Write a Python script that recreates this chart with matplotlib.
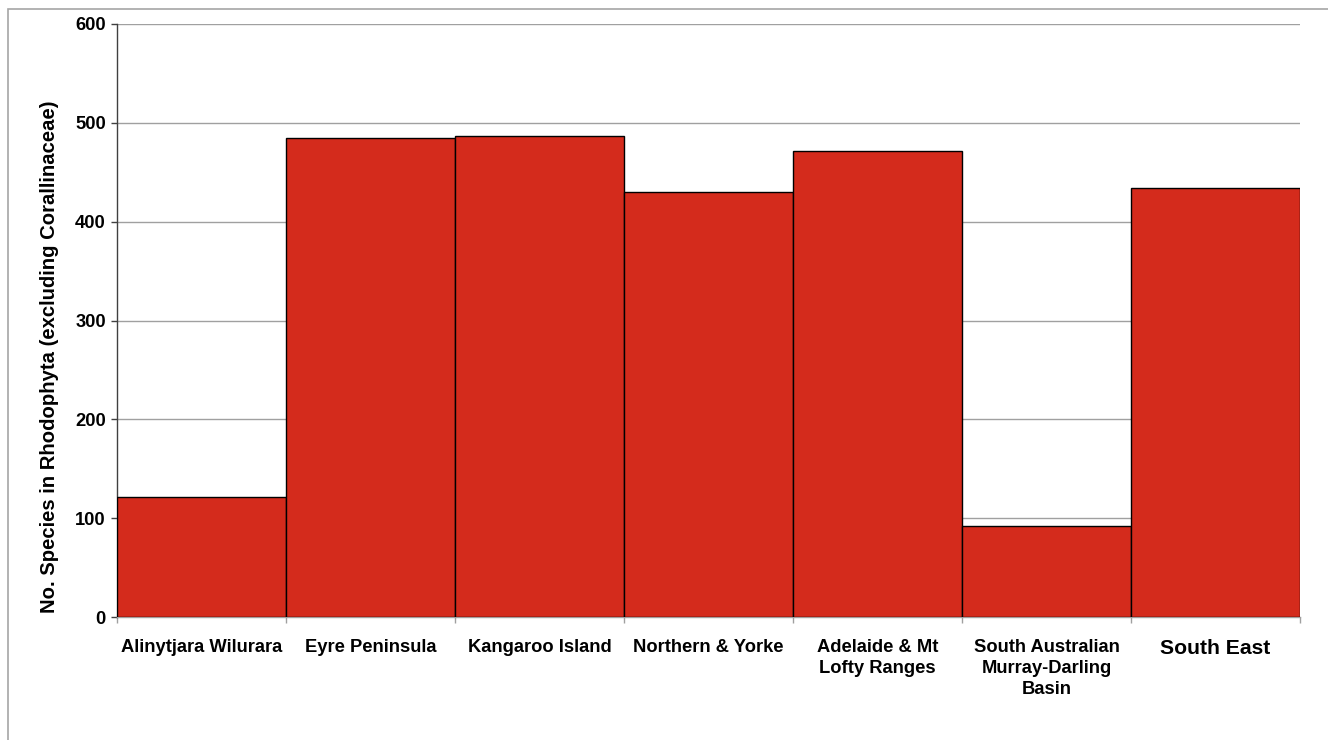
import matplotlib
matplotlib.use("Agg")
import matplotlib.pyplot as plt
from matplotlib.patches import Rectangle

regions = [
    "Alinytjara Wilurara",
    "Eyre Peninsula",
    "Kangaroo Island",
    "Northern & Yorke",
    "Adelaide & Mt\nLofty Ranges",
    "South Australian\nMurray-Darling\nBasin",
    "South East",
]
species = [121, 485, 487, 430, 472, 92, 434]
y_ticks = [0, 100, 200, 300, 400, 500, 600]

plt.rcParams["font.family"] = ["Liberation Sans", "DejaVu Sans"]

W, H = 1328, 740
fig = plt.figure(figsize=(W / 100, H / 100), dpi=100)

# outer chart-area frame
fig.patches.append(Rectangle((8 / W, -0.05), 1.2, 1 - 9 / H + 0.05,
                             transform=fig.transFigure, fill=False,
                             edgecolor="#a6a6a6", linewidth=1.2))

ax = fig.add_axes([117 / W, 1 - 617 / H, (1300 - 117) / W, (617 - 24) / H])

x = list(range(len(regions)))
ax.bar(x, species, width=1.0, align="edge", color="#d42b1c",
       edgecolor="black", linewidth=1.0, zorder=3)

ax.set_xlim(0, len(regions))
ax.set_ylim(0, 600)
ax.set_yticks(y_ticks)
ax.set_yticklabels([str(v) for v in y_ticks], fontsize=13.2, fontweight="bold")
ax.yaxis.grid(True, color="#a0a0a0", linewidth=1.0, zorder=0)
ax.set_axisbelow(True)

ax.set_xticks(range(len(regions) + 1))
ax.set_xticklabels([])
ax.tick_params(axis="x", length=4, color="#a0a0a0", width=1.0)
ax.tick_params(axis="y", length=4, color="#404040", width=1.0, pad=4)

for i, name in enumerate(regions):
    size = 15.2 if name == "South East" else 13.2
    ax.text(i + 0.5, -22, name, ha="center", va="top", fontsize=size,
            fontweight="bold", linespacing=1.32)

for side in ("top", "right"):
    ax.spines[side].set_visible(False)
ax.spines["left"].set_color("#404040")
ax.spines["bottom"].set_color("#a0a0a0")
ax.spines["left"].set_linewidth(1.0)
ax.spines["bottom"].set_linewidth(1.0)

fig.text(50 / W, 1 - 357 / H,
         "No. Species in Rhodophyta (excluding Corallinaceae)",
         rotation=90, ha="center", va="center",
         fontsize=14.6, fontweight="bold")

fig.savefig("out.png", dpi=100)
